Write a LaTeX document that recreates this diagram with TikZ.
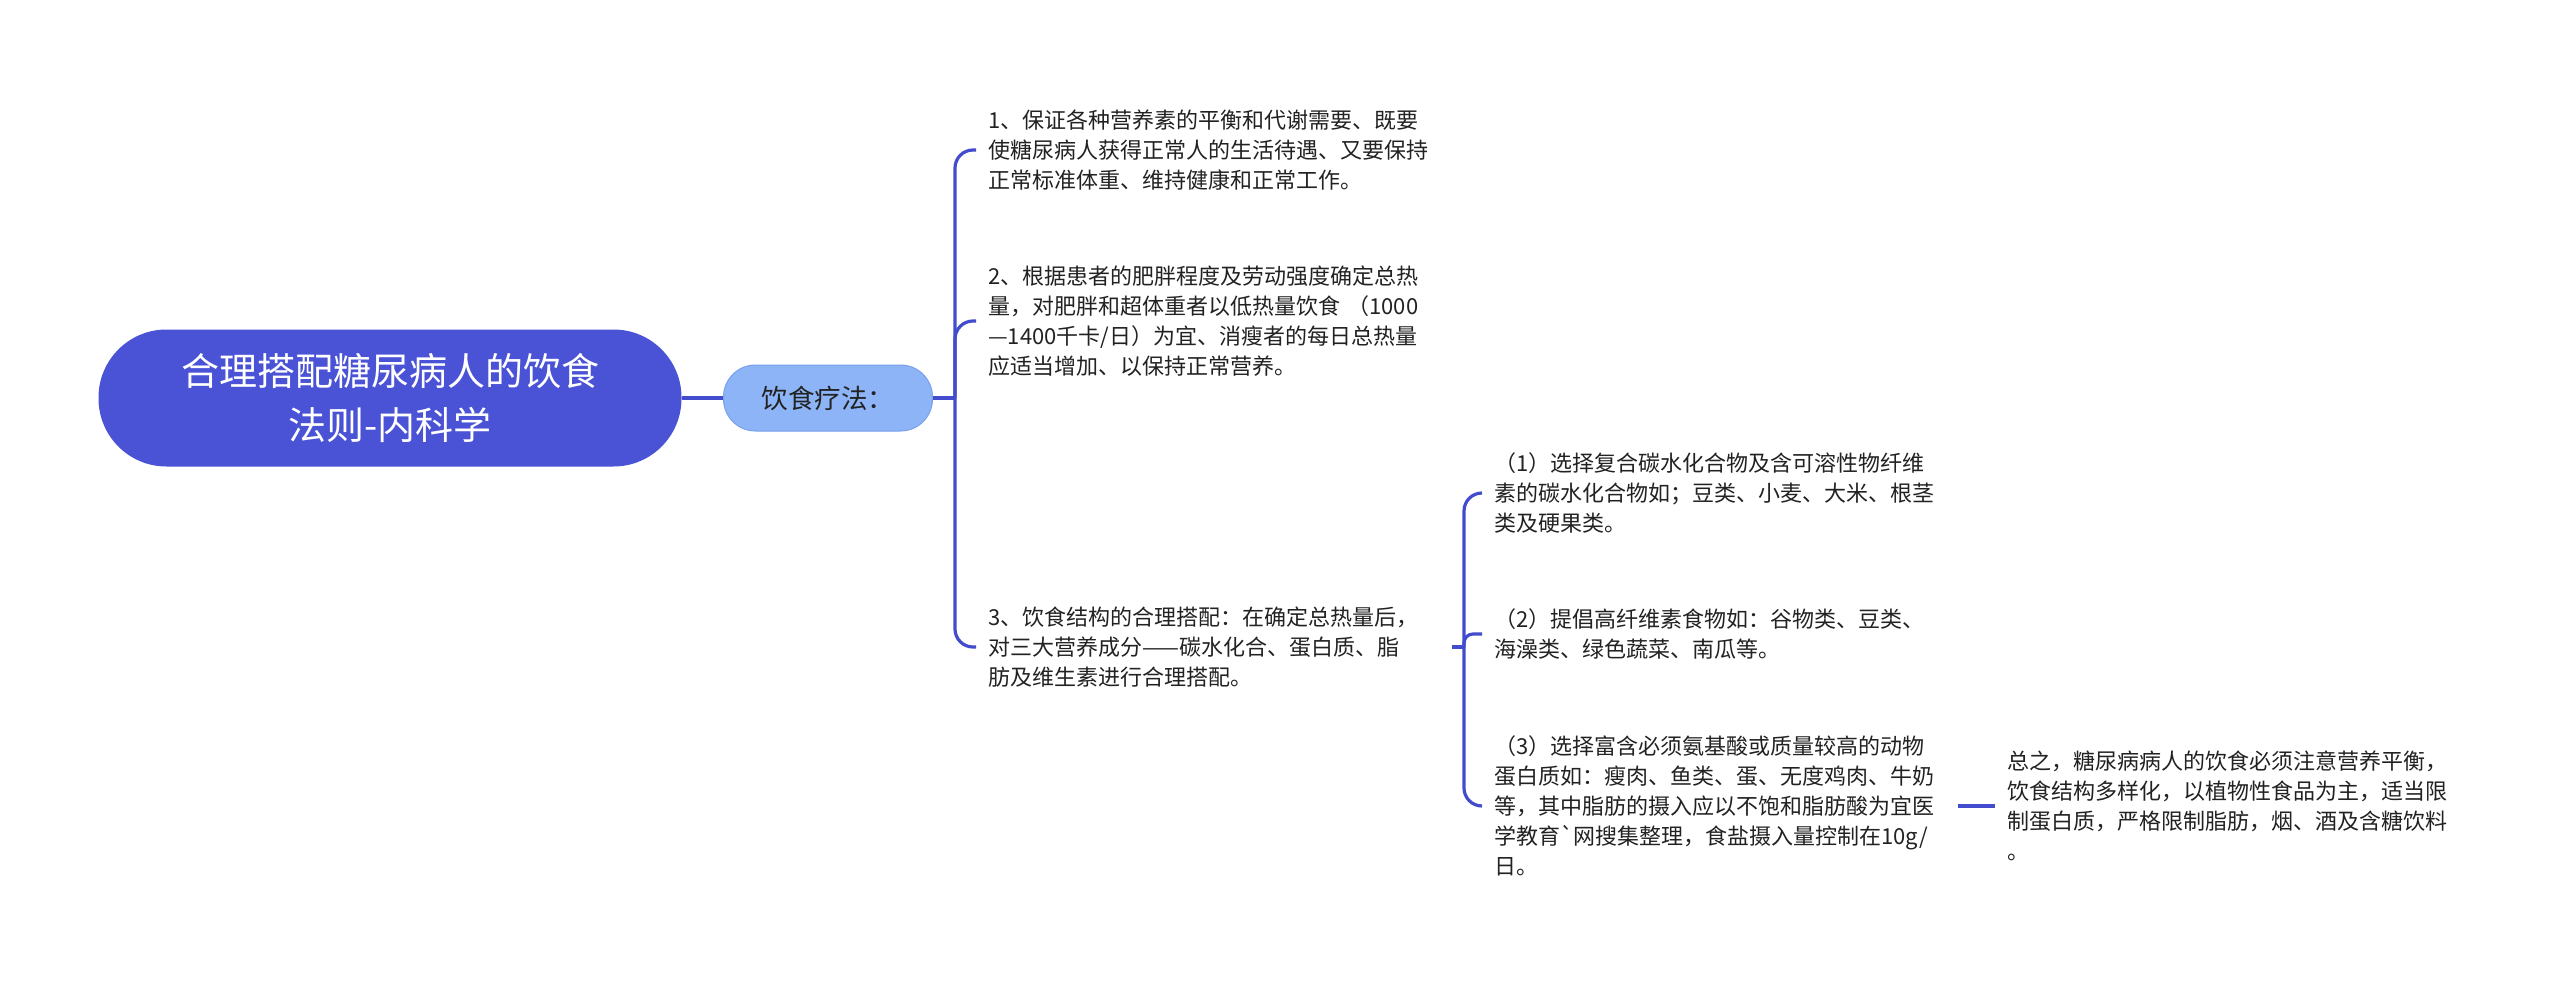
\documentclass[tikz,border=0pt]{standalone}
\usepackage{fontspec}
\newfontfamily\cjk{Noto Sans CJK SC}
\definecolor{rootfill}{RGB}{74,82,214}
\definecolor{subfill}{RGB}{140,180,246}
\definecolor{subdraw}{RGB}{120,160,236}
\definecolor{linec}{RGB}{66,76,204}
\definecolor{txt}{RGB}{34,34,34}
\begin{document}
\begin{tikzpicture}[x=1pt,y=-1pt,
  rootbox/.style={rectangle, rounded corners=68pt, fill=rootfill, text=white,
    minimum width=583pt, minimum height=137pt, align=center, inner sep=0pt,
    font=\cjk\fontsize{38}{54}\selectfont},
  subbox/.style={rectangle, rounded corners=32pt, fill=subfill, draw=subdraw, line width=1pt,
    text=txt, minimum width=209pt, minimum height=66pt, inner sep=0pt,
    font=\cjk\fontsize{26.5}{30}\selectfont},
  leaf/.style={anchor=west, text width=452pt, align=left, inner xsep=12pt, inner ysep=3pt,
    text=txt, font=\cjk\fontsize{22}{30}\selectfont},
  conn/.style={draw=linec, line width=3.2pt},
  elbow/.style={conn, rounded corners=18pt}
]
\fill[white] (0,0) rectangle (2560,982);
\path[use as bounding box] (0,0) rectangle (2560,982);

\node[rootbox] (root) at (390,398) {合理搭配糖尿病人的饮食\\法则-内科学};
\node[subbox] (diet) at (828,398) {饮食疗法：};

\node[leaf] (c1) at (976,150) {1、保证各种营养素的平衡和代谢需要、既要\\使糖尿病人获得正常人的生活待遇、又要保持\\正常标准体重、维持健康和正常工作。};
\node[leaf] (c2) at (976,321) {2、根据患者的肥胖程度及劳动强度确定总热\\量，对肥胖和超体重者以低热量饮食~（1000\\—1400千卡/日）为宜、消瘦者的每日总热量\\应适当增加、以保持正常营养。};
\node[leaf] (c3) at (976,647) {3、饮食结构的合理搭配：在确定总热量后，\\对三大营养成分——碳水化合、蛋白质、脂\\肪及维生素进行合理搭配。};

\node[leaf] (s1) at (1482,493) {（1）选择复合碳水化合物及含可溶性物纤维\\素的碳水化合物如；豆类、小麦、大米、根茎\\类及硬果类。};
\node[leaf] (s2) at (1482,634) {（2）提倡高纤维素食物如：谷物类、豆类、\\海澡类、绿色蔬菜、南瓜等。};
\node[leaf] (s3) at (1482,806) {（3）选择富含必须氨基酸或质量较高的动物\\蛋白质如：瘦肉、鱼类、蛋、无度鸡肉、牛奶\\等，其中脂肪的摄入应以不饱和脂肪酸为宜医\\学教育`网搜集整理，食盐摄入量控制在10g/\\日。};

\node[leaf] (fin) at (1995,806) {总之，糖尿病病人的饮食必须注意营养平衡，\\饮食结构多样化，以植物性食品为主，适当限\\制蛋白质，严格限制脂肪，烟、酒及含糖饮料\\。};

\coordinate (t1) at (955,398);
\coordinate (t2) at (1464,647);

\draw[conn] (root.east) -- (diet.west);
\draw[conn] (diet.east) -- (t1);
\draw[elbow] (t1) |- (c1.west);
\draw[elbow] (t1) |- (c2.west);
\draw[elbow] (t1) |- (c3.west);

\draw[conn] (c3.east) -- (t2);
\draw[elbow] (t2) |- (s1.west);
\draw[conn, rounded corners=9pt] (t2) |- (s2.west);
\draw[elbow] (t2) |- (s3.west);

\draw[conn] (s3.east) -- (fin.west);
\end{tikzpicture}
\end{document}
